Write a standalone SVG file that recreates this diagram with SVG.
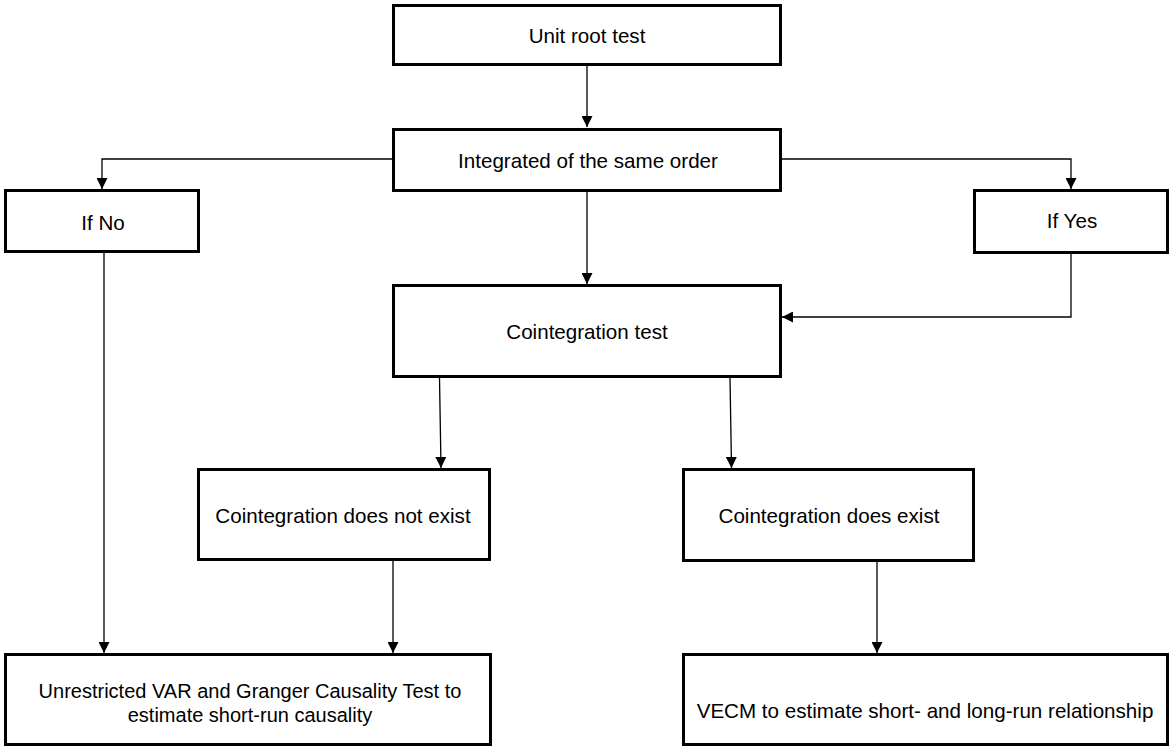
<svg xmlns="http://www.w3.org/2000/svg" width="1171" height="747" viewBox="0 0 1171 747">
<style>
.box{fill:#fff;stroke:#000;stroke-width:3}
.lbl{font-family:"Liberation Sans",Arial,sans-serif;font-size:20.6px;fill:#000;text-anchor:middle}
.sm{font-size:20px}
.conn{fill:none;stroke:#000;stroke-width:1.3}
</style>
<defs>
<marker id="arr" markerUnits="userSpaceOnUse" markerWidth="11" markerHeight="11" refX="11" refY="5.5" orient="auto">
<path d="M0,0 L11,5.5 L0,11 z" fill="#000"/>
</marker>
</defs>
<rect width="1171" height="747" fill="#fff"/>
<g id="connectors">
<line class="conn" x1="587" y1="66" x2="587" y2="127" marker-end="url(#arr)"/>
<polyline class="conn" points="392,159 102,159 102,189" marker-end="url(#arr)"/>
<polyline class="conn" points="782,159 1071,159 1071,189" marker-end="url(#arr)"/>
<line class="conn" x1="587" y1="192" x2="587" y2="284" marker-end="url(#arr)"/>
<polyline class="conn" points="1071,253 1071,317 782,317" marker-end="url(#arr)"/>
<line class="conn" x1="439.5" y1="378" x2="441" y2="468" marker-end="url(#arr)"/>
<line class="conn" x1="730" y1="378" x2="731.5" y2="468" marker-end="url(#arr)"/>
<line class="conn" x1="104" y1="252" x2="104" y2="653" marker-end="url(#arr)"/>
<line class="conn" x1="393" y1="561" x2="393" y2="653" marker-end="url(#arr)"/>
<line class="conn" x1="877" y1="562" x2="877" y2="653" marker-end="url(#arr)"/>
</g>
<g id="unit-root">
<rect class="box" x="393.5" y="5.5" width="387" height="59"/>
<text class="lbl" x="587" y="43">Unit root test</text>
</g>
<g id="integrated">
<rect class="box" x="393.5" y="129.5" width="387" height="61"/>
<text class="lbl" x="588" y="168">Integrated of the same order</text>
</g>
<g id="if-no">
<rect class="box" x="5.5" y="190.5" width="193" height="61"/>
<text class="lbl" x="103" y="230">If No</text>
</g>
<g id="if-yes">
<rect class="box" x="974.5" y="190.5" width="193" height="62"/>
<text class="lbl" x="1072" y="228">If Yes</text>
</g>
<g id="coint-test">
<rect class="box" x="393.5" y="285.5" width="387" height="91"/>
<text class="lbl" x="587" y="339">Cointegration test</text>
</g>
<g id="coint-not">
<rect class="box" x="198.5" y="469.5" width="291" height="90"/>
<text class="lbl" x="343" y="523">Cointegration does not exist</text>
</g>
<g id="coint-exists">
<rect class="box" x="683.5" y="469.5" width="290" height="91"/>
<text class="lbl" x="829" y="523">Cointegration does exist</text>
</g>
<g id="var-granger">
<rect class="box" x="5.5" y="654.5" width="485" height="90"/>
<text class="lbl sm" x="250" y="698">Unrestricted VAR and Granger Causality Test to</text>
<text class="lbl sm" x="250" y="722">estimate short-run causality</text>
</g>
<g id="vecm">
<rect class="box" x="683.5" y="654.5" width="484" height="90"/>
<text class="lbl" x="925" y="718">VECM to estimate short- and long-run relationship</text>
</g>
</svg>
